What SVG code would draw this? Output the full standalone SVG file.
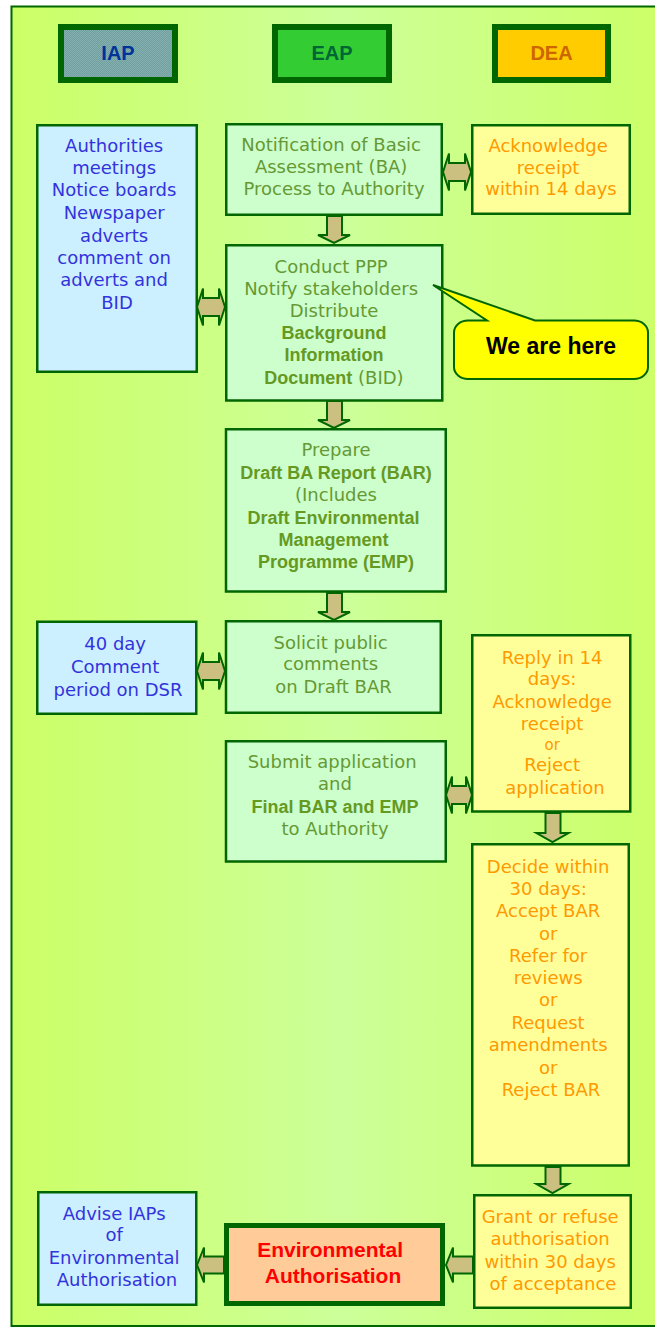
<svg xmlns="http://www.w3.org/2000/svg" width="655" height="1328" viewBox="0 0 655 1328">
<defs>
<linearGradient id="bg" x1="0" y1="0" x2="1" y2="0">
<stop offset="0" stop-color="#ccff66"/>
<stop offset="0.5" stop-color="#ccff99"/>
<stop offset="1" stop-color="#ccff66"/>
</linearGradient>
<pattern id="hatch" width="2" height="2" patternUnits="userSpaceOnUse">
<rect width="2" height="2" fill="#6f9f9f"/>
<rect width="1" height="1" fill="#86b0b0"/>
<rect x="1" y="1" width="1" height="1" fill="#86b0b0"/>
</pattern>
<style>
.box{stroke:#006600;stroke-width:2.5}
.hdr{stroke:#006600;stroke-width:6}
.iap{fill:#ccf0ff}
.eap{fill:#ccffcc}
.dea{fill:#ffff99}
.t{font-family:"DejaVu Sans","Liberation Sans",sans-serif;font-size:18px;text-anchor:middle}
.b{font-family:"Liberation Sans",Arial,sans-serif;font-weight:bold}
.h{font-family:"Liberation Sans",Arial,sans-serif;font-weight:bold;font-size:20px;text-anchor:middle}
.ti{fill:#3333dd}
.te{fill:#669933}
.teb{fill:#669922}
.td{fill:#ff9900}
.arr{fill:#ccc080;stroke:#006600;stroke-width:2;stroke-linejoin:miter}
</style>
</defs>

<rect x="11.5" y="6.5" width="660" height="1319.5" fill="url(#bg)" stroke="#006600" stroke-width="2"/>

<g id="hdr-iap">
<rect class="hdr" x="61" y="27" width="114" height="53" fill="url(#hatch)"/>
<text class="h" x="118" y="60" fill="#003399">IAP</text>
</g>
<g id="hdr-eap">
<rect class="hdr" x="275" y="27" width="114" height="53" fill="#33cc33"/>
<text class="h" x="332" y="60" fill="#006633">EAP</text>
</g>
<g id="hdr-dea">
<rect class="hdr" x="495" y="27" width="113" height="53" fill="#ffcc00"/>
<text class="h" x="551.5" y="60" fill="#cc6600">DEA</text>
</g>

<g id="connectors">
<polygon class="arr" points="327,216 342,216 342,235 350,235 334,243 318,235 327,235"/>
<polygon class="arr" points="327,401 342,401 342,420 350,420 334,428 318,420 327,420"/>
<polygon class="arr" points="327,593 342,593 342,612 350,612 334,620 318,612 327,612"/>
<polygon class="arr" points="545.5,813 560.5,813 560.5,833 568.5,833 552.5,842 536.5,833 545.5,833"/>
<polygon class="arr" points="545.5,1167 560.5,1167 560.5,1184 568.5,1184 552.5,1193 536.5,1184 545.5,1184"/>
<polygon class="arr" points="443,172 449,153.5 449,163 465,163 465,153.5 471,172 465,190.5 465,181 449,181 449,190.5"/>
<polygon class="arr" points="197,307 203,288.5 203,298 219,298 219,288.5 225,307 219,325.5 219,316 203,316 203,325.5"/>
<polygon class="arr" points="197,671 203,652.5 203,662 219,662 219,652.5 225,671 219,689.5 219,680 203,680 203,689.5"/>
<polygon class="arr" points="446,795 452,776.5 452,786 466,786 466,776.5 472,795 466,813.5 466,804 452,804 452,813.5"/>
<polygon class="arr" points="446,1265 453,1247.5 453,1256.5 473,1256.5 473,1273.5 453,1273.5 453,1282.5"/>
<polygon class="arr" points="197,1265 204,1247.5 204,1256.5 224,1256.5 224,1273.5 204,1273.5 204,1282.5"/>
</g>

<g id="iap1">
<rect class="box iap" x="37.25" y="125.25" width="159.5" height="246.5"/>
<text class="t ti">
<tspan x="117" y="151.5">Authorities</tspan>
<tspan x="117" y="173.5">meetings</tspan>
<tspan x="117" y="196">Notice boards</tspan>
<tspan x="117" y="218.5">Newspaper</tspan>
<tspan x="117" y="241.5">adverts</tspan>
<tspan x="117" y="264">comment on</tspan>
<tspan x="117" y="286">adverts and</tspan>
<tspan x="117" y="308.5">BID</tspan>
</text>
</g>

<g id="eap1">
<rect class="box eap" x="226.25" y="124.25" width="215.5" height="90.5"/>
<text class="t te">
<tspan x="334" y="150.5">Notification of Basic</tspan>
<tspan x="334" y="172.5">Assessment (BA)</tspan>
<tspan x="334" y="195">Process to Authority</tspan>
</text>
</g>

<g id="dea1">
<rect class="box dea" x="472.25" y="125.25" width="157.5" height="88.5"/>
<text class="t td">
<tspan x="551" y="151.5">Acknowledge</tspan>
<tspan x="551" y="173.5">receipt</tspan>
<tspan x="551" y="195">within 14 days</tspan>
</text>
</g>

<g id="eap2">
<rect class="box eap" x="226.25" y="245.25" width="216" height="155.25"/>
<text class="t te">
<tspan x="334" y="272.5">Conduct PPP</tspan>
<tspan x="334" y="294.5">Notify stakeholders</tspan>
<tspan x="334" y="316.5">Distribute</tspan>
</text>
<text class="t b teb" x="334" y="338.5">Background</text>
<text class="t b teb" x="334" y="361">Information</text>
<text class="t te" x="334" y="383.5"><tspan class="b teb">Document</tspan> (BID)</text>
</g>

<g id="callout">
<path d="M468,320.5 L487,320.5 L433,285 L535,320.5 L634,320.5 A14,12 0 0 1 648,332.5 L648,367 A14,12 0 0 1 634,379 L468,379 A14,12 0 0 1 454,367 L454,332.5 A14,12 0 0 1 468,320.5 Z" fill="#ffff00" stroke="#006600" stroke-width="2" stroke-linejoin="miter"/>
<text x="551" y="354" font-family="'Liberation Sans',Arial,sans-serif" font-weight="bold" font-size="23" text-anchor="middle" fill="#000000">We are here</text>
</g>

<g id="eap3">
<rect class="box eap" x="226" y="429.25" width="219.75" height="162.25"/>
<text class="t te" x="336" y="456">Prepare</text>
<text class="t b teb" x="336" y="478.5">Draft BA Report (BAR)</text>
<text class="t te" x="336" y="501">(Includes</text>
<text class="t b teb">
<tspan x="336" y="523.5">Draft Environmental</tspan>
<tspan x="336" y="545.5">Management</tspan>
<tspan x="336" y="567.5">Programme (EMP)</tspan>
</text>
</g>

<g id="iap2">
<rect class="box iap" x="37.25" y="621.75" width="159" height="92"/>
<text class="t ti">
<tspan x="118" y="650">40 day</tspan>
<tspan x="118" y="673">Comment</tspan>
<tspan x="118" y="696">period on DSR</tspan>
</text>
</g>

<g id="eap4">
<rect class="box eap" x="226" y="621.25" width="214.75" height="91.5"/>
<text class="t te">
<tspan x="333.5" y="648.5">Solicit public</tspan>
<tspan x="333.5" y="670">comments</tspan>
<tspan x="333.5" y="692.5">on Draft BAR</tspan>
</text>
</g>

<g id="dea2">
<rect class="box dea" x="472.25" y="635.25" width="158" height="176.25"/>
<text class="t td">
<tspan x="555" y="663.5">Reply in 14</tspan>
<tspan x="555" y="685">days:</tspan>
<tspan x="555" y="707.5">Acknowledge</tspan>
<tspan x="555" y="729.5">receipt</tspan>
<tspan x="555" y="750" font-size="15">or</tspan>
<tspan x="555" y="771">Reject</tspan>
<tspan x="555" y="793.5">application</tspan>
</text>
</g>

<g id="eap5">
<rect class="box eap" x="226" y="741.25" width="219.75" height="120.25"/>
<text class="t te">
<tspan x="335" y="767.5">Submit application</tspan>
<tspan x="335" y="790">and</tspan>
</text>
<text class="t b teb" x="335" y="812.5">Final BAR and EMP</text>
<text class="t te" x="335" y="835">to Authority</text>
</g>

<g id="dea3">
<rect class="box dea" x="472.25" y="844.25" width="156.5" height="321.25"/>
<text class="t td">
<tspan x="551" y="872.5">Decide within</tspan>
<tspan x="551" y="894.5">30 days:</tspan>
<tspan x="551" y="917">Accept BAR</tspan>
<tspan x="551" y="939.5">or</tspan>
<tspan x="551" y="962">Refer for</tspan>
<tspan x="551" y="984">reviews</tspan>
<tspan x="551" y="1006">or</tspan>
<tspan x="551" y="1029">Request</tspan>
<tspan x="551" y="1051">amendments</tspan>
<tspan x="551" y="1073.5">or</tspan>
<tspan x="551" y="1096">Reject BAR</tspan>
</text>
</g>

<g id="iap3">
<rect class="box iap" x="38.25" y="1192.25" width="158" height="112.5"/>
<text class="t ti">
<tspan x="117" y="1219.5">Advise IAPs</tspan>
<tspan x="117" y="1241">of</tspan>
<tspan x="117" y="1263.5">Environmental</tspan>
<tspan x="117" y="1286">Authorisation</tspan>
</text>
</g>

<g id="eap-final">
<rect x="226.5" y="1225.5" width="216" height="78" fill="#ffcc99" stroke="#006600" stroke-width="5"/>
<text font-family="'Liberation Sans',Arial,sans-serif" font-weight="bold" font-size="21" text-anchor="middle" fill="#ff0000">
<tspan x="333" y="1257">Environmental</tspan>
<tspan x="333" y="1283">Authorisation</tspan>
</text>
</g>

<g id="dea4">
<rect class="box dea" x="474.25" y="1195.25" width="156.5" height="112.5"/>
<text class="t td">
<tspan x="553" y="1223">Grant or refuse</tspan>
<tspan x="553" y="1245">authorisation</tspan>
<tspan x="553" y="1267.5">within 30 days</tspan>
<tspan x="553" y="1289.5">of acceptance</tspan>
</text>
</g>
</svg>
